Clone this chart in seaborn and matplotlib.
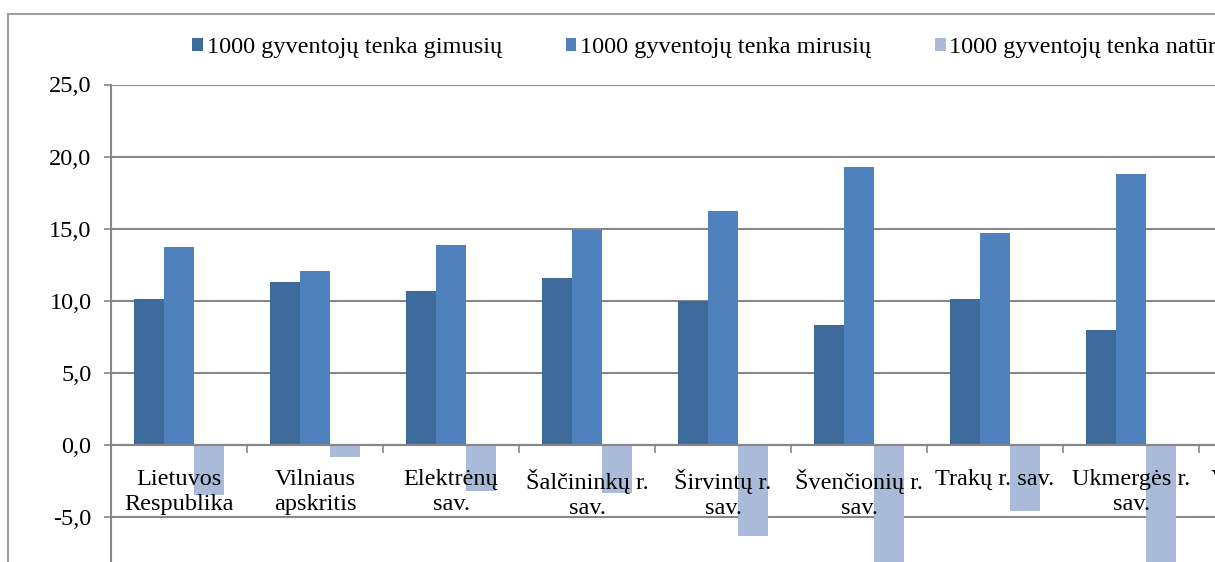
import matplotlib
matplotlib.use("Agg")
import matplotlib.pyplot as plt
import numpy as np
import pandas as pd
import seaborn as sns
from matplotlib.patches import Patch, Rectangle

# values per 1000 inhabitants
categories = ["Lietuvos\nRespublika", "Vilniaus\napskritis", "Elektrėnų\nsav.",
              "Šalčininkų r.\nsav.", "Širvintų r.\nsav.", "Švenčionių r.\nsav.",
              "Trakų r. sav.", "Ukmergės r.\nsav."]
# categories cut off at the right edge of the picture (no visible bars)
hidden_categories = ["Vilniaus m.\nsav.", "Vilniaus r.\nsav."]
births = [10.1, 11.3, 10.7, 11.6, 10.0, 8.3, 10.1, 8.0]
deaths = [13.7, 12.1, 13.9, 14.9, 16.2, 19.3, 14.7, 18.8]
natural = [-3.5, -0.8, -3.2, -3.3, -6.3, -11.0, -4.6, -10.8]
series = ["1000 gyventojų tenka gimusių",
          "1000 gyventojų tenka mirusių",
          "1000 gyventojų tenka natūralaus prieaugio"]
colors = ["#3F6A9C", "#4F81BD", "#AABAD9"]
y_ticks = [-5, 0, 5, 10, 15, 20, 25]

all_categories = categories + hidden_categories
df = pd.DataFrame({
    "category": categories * 3,
    "series": np.repeat(series, len(categories)),
    "value": births + deaths + natural,
})

plt.rcParams["font.family"] = ["Liberation Serif", "DejaVu Serif"]
grid_col = "#878787"
fs = 17.5

fig = plt.figure(figsize=(12.15, 5.62), dpi=100)
W, H = 1215, 562
# the picture is a crop of a bigger chart: axes run past the right and bottom edges
y0, y1 = 445.0, 84.5          # pixel rows of 0 and 25
per_unit = (y0 - y1) / 25
bottom_px = y0 + 15 * per_unit
ax = fig.add_axes([111 / W, 1 - bottom_px / H,
                   136.0 * len(all_categories) / W, (bottom_px - y1) / H])

sns.barplot(data=df, x="category", y="value", hue="series", order=all_categories,
            hue_order=series, palette=colors, saturation=1, width=0.66,
            errorbar=None, linewidth=0, ax=ax, legend=False)

ax.set_xlim(-0.5, len(all_categories) - 0.5)
ax.set_ylim(-15, 25)
ax.set_xlabel("")
ax.set_ylabel("")
ax.set_axisbelow(True)

ax.set_yticks(y_ticks)
ax.set_yticklabels([f"{v:.1f}".replace(".", ",") for v in y_ticks], fontsize=fs)
ax.yaxis.grid(True, color=grid_col, lw=1.5)
ax.set_xticks(np.arange(-0.5, len(all_categories), 1))
ax.tick_params(axis="x", direction="out", length=6, width=1.2, color=grid_col,
               labelbottom=False)
ax.tick_params(axis="y", direction="out", length=5, width=1.2, color=grid_col, pad=9)

for s in ["top", "right"]:
    ax.spines[s].set_visible(False)
ax.spines["bottom"].set_position(("data", 0))
ax.spines["bottom"].set_color(grid_col)
ax.spines["bottom"].set_linewidth(1.5)
ax.spines["left"].set_color(grid_col)
ax.spines["left"].set_linewidth(1.5)

# category labels sit on top of the negative bars
for i, lab in enumerate(all_categories):
    ax.annotate(lab, (i, 0), xytext=(0, -17), textcoords="offset points",
                ha="center", va="top", fontsize=fs, linespacing=1.3, zorder=5)

# outer chart frame
fig.patches.append(Rectangle((8 / W, -0.2), 1.2, 1.2 - 14 / H, transform=fig.transFigure,
                             fill=False, ec="#A0A0A0", lw=1.5, zorder=0))

handles = [Patch(facecolor=c) for c in colors]
fig.legend(handles, series, loc="center left", bbox_to_anchor=(192 / W, 1 - 48 / H),
           ncol=3, frameon=False, fontsize=fs, handlelength=0.45, handleheight=0.45,
           handletextpad=0.15, columnspacing=2.62, borderpad=0, borderaxespad=0)

fig.savefig("out.png", dpi=100)
